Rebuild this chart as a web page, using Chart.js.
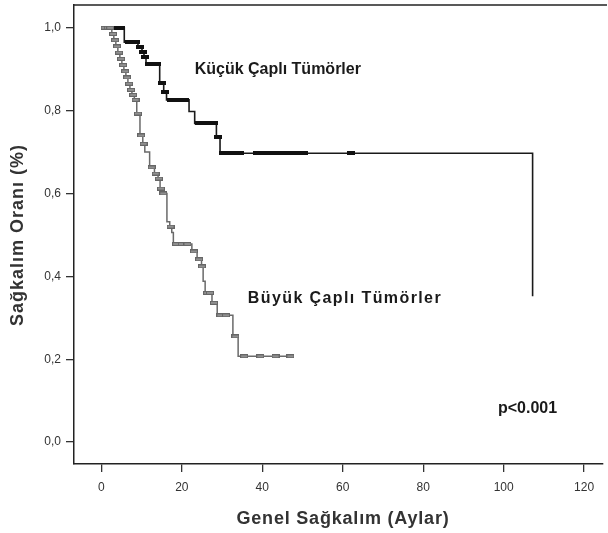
<!DOCTYPE html>
<html>
<head>
<meta charset="utf-8">
<script src="https://cdn.jsdelivr.net/npm/chart.js@4"></script>
<style>
  html, body { margin: 0; padding: 0; background: #fff; }
  #wrap { width: 608px; height: 533px; }
</style>
</head>
<body>
<div id="wrap"><canvas id="kmChart" width="608" height="533"></canvas></div>
<script>
// Axis ticks
const xTicks = [0, 20, 40, 60, 80, 100, 120];
const yTicks = [0, 0.2, 0.4, 0.6, 0.8, 1.0];

// Küçük çaplı tümörler (small tumours) - step times (months) and survival after each drop
const smallTimes = [0, 5.7, 9.1, 10.1, 10.6, 11.1, 14.5, 15.5, 16.2, 21.8, 23.2, 28.6, 29.5, 107.2];
const smallSurv  = [1.0, 0.965, 0.954, 0.942, 0.930, 0.912, 0.866, 0.844, 0.826, 0.798, 0.769, 0.736, 0.697, 0.352];
// censored cases
const smallCensorTimes = [3.5, 4.8, 6.8, 7.8, 8.6, 9.6, 10.4, 10.9, 11.8, 12.8, 13.8, 15.0, 15.8,
  17.2, 18.4, 19.6, 20.8, 24.3, 25.6, 26.9, 27.9, 29.0,
  30.2, 31.6, 33.0, 34.4, 38.7, 40.2, 41.7, 43.2, 44.7, 46.2, 47.7, 49.2, 50.4, 62.0];
const smallCensorSurv  = [1.0, 1.0, 0.965, 0.965, 0.965, 0.954, 0.942, 0.930, 0.912, 0.912, 0.912, 0.866, 0.844,
  0.826, 0.826, 0.826, 0.826, 0.769, 0.769, 0.769, 0.769, 0.736,
  0.697, 0.697, 0.697, 0.697, 0.697, 0.697, 0.697, 0.697, 0.697, 0.697, 0.697, 0.697, 0.697, 0.697];

// Büyük çaplı tümörler (large tumours)
const largeTimes = [0, 2.6, 3.1, 3.6, 4.1, 4.6, 5.1, 5.6, 6.1, 6.6, 7.1, 7.6, 8.2, 8.8, 9.6, 10.3, 10.8,
  12.0, 13.2, 14.1, 14.6, 15.1, 16.3, 17.0, 17.5, 17.9, 22.5, 23.8, 24.9, 25.3, 25.8, 27.5, 28.8, 32.7, 34.0, 47.4];
const largeSurv  = [1.0, 0.985, 0.970, 0.955, 0.940, 0.925, 0.910, 0.895, 0.880, 0.865, 0.850, 0.838, 0.826, 0.793, 0.740, 0.720, 0.700,
  0.663, 0.648, 0.636, 0.612, 0.600, 0.532, 0.520, 0.506, 0.478, 0.460, 0.441, 0.424, 0.388, 0.360, 0.336, 0.306, 0.255, 0.207, 0.207];
const largeCensorTimes = [0.8, 1.6, 2.2, 2.9, 3.4, 3.9, 4.4, 4.9, 5.4, 5.9, 6.4, 6.9, 7.4, 7.9, 8.5,
  9.1, 9.9, 10.5, 12.5, 13.5, 14.3, 14.8, 15.4, 17.2, 18.6, 20.0, 21.4, 23.0, 24.3, 25.0,
  26.3, 27.0, 28.0, 29.6, 31.0, 33.3, 35.5, 39.5, 43.3, 47.0];
const largeCensorSurv  = [1.0, 1.0, 1.0, 0.985, 0.970, 0.955, 0.940, 0.925, 0.910, 0.895, 0.880, 0.865, 0.850, 0.838, 0.826,
  0.793, 0.740, 0.720, 0.663, 0.648, 0.636, 0.612, 0.600, 0.520, 0.478, 0.478, 0.478, 0.460, 0.441, 0.424,
  0.360, 0.360, 0.336, 0.306, 0.306, 0.255, 0.207, 0.207, 0.207, 0.207];

function toPoints(xs, ys) {
    return xs.map((x, i) => ({ x: x, y: ys[i] }));
}

// small rectangle images used as censor marks
function makeMark(w, h, fill, stroke) {
    const c = document.createElement('canvas');
    c.width = w;
    c.height = h;
    const g = c.getContext('2d');
    g.fillStyle = fill;
    g.fillRect(0, 0, w, h);
    if (stroke) {
        g.strokeStyle = stroke;
        g.lineWidth = 1;
        g.strokeRect(0.5, 0.5, w - 1, h - 1);
    }
    return c;
}
const blackMark = makeMark(8, 4, '#111111');
const grayMark = makeMark(8, 4, '#909090', '#666666');

const FONT = "'Liberation Sans', Arial, sans-serif";

// no automatic padding for tick labels, so the plot box lands where the reference has it
function noPad(s) {
    s.paddingTop = 0;
    s.paddingBottom = 0;
    s.paddingLeft = 0;
    s.paddingRight = 0;
}

// top frame line, axis titles and text labels inside the plot
const extrasPlugin = {
    id: 'extras',
    afterDraw(chart) {
        const { ctx, chartArea, scales } = chart;
        ctx.save();
        ctx.strokeStyle = '#222';
        ctx.lineWidth = 1.5;
        ctx.beginPath();
        ctx.moveTo(chartArea.left, chartArea.top);
        ctx.lineTo(chartArea.right + 4, chartArea.top);
        ctx.stroke();

        ctx.fillStyle = '#1a1a1a';
        ctx.textBaseline = 'middle';
        ctx.textAlign = 'left';
        ctx.font = 'bold 16px ' + FONT;
        ctx.fillText('Küçük Çaplı Tümörler', scales.x.getPixelForValue(23.2), scales.y.getPixelForValue(0.899));
        ctx.letterSpacing = '1.4px';
        ctx.fillText('Büyük Çaplı Tümörler', scales.x.getPixelForValue(36.4), scales.y.getPixelForValue(0.347));
        ctx.letterSpacing = '0px';
        ctx.font = 'bold 16px ' + FONT;
        ctx.fillText('p<0.001', scales.x.getPixelForValue(98.6), scales.y.getPixelForValue(0.08));

        // axis titles
        ctx.fillStyle = '#333';
        ctx.textAlign = 'center';
        ctx.font = 'bold 18px ' + FONT;
        ctx.letterSpacing = '0.8px';
        ctx.fillText('Genel Sağkalım (Aylar)', 343, 519);
        ctx.translate(18, 235);
        ctx.rotate(-Math.PI / 2);
        ctx.letterSpacing = '1px';
        ctx.fillText('Sağkalım Oranı (%)', 0, 0);
        ctx.restore();
    }
};

const ctx = document.getElementById('kmChart').getContext('2d');
new Chart(ctx, {
    type: 'scatter',
    data: {
        datasets: [
            {
                label: 'Büyük Çaplı Tümörler',
                data: toPoints(largeTimes, largeSurv),
                showLine: true,
                stepped: 'before',
                borderColor: '#6a6a6a',
                borderWidth: 1.5,
                pointRadius: 0,
                order: 1
            },
            {
                label: 'Büyük censor',
                data: toPoints(largeCensorTimes, largeCensorSurv),
                showLine: false,
                pointStyle: grayMark,
                pointRadius: 4,
                order: 0
            },
            {
                label: 'Küçük Çaplı Tümörler',
                data: toPoints(smallTimes, smallSurv),
                showLine: true,
                stepped: 'before',
                borderColor: '#1a1a1a',
                borderWidth: 1.6,
                pointRadius: 0,
                order: 3
            },
            {
                label: 'Küçük censor',
                data: toPoints(smallCensorTimes, smallCensorSurv),
                showLine: false,
                pointStyle: blackMark,
                pointRadius: 4,
                order: 2
            }
        ]
    },
    options: {
        responsive: false,
        animation: false,
        layout: { padding: { left: 0, top: 3, right: 1, bottom: 0 } },
        plugins: {
            legend: { display: false },
            tooltip: { enabled: false }
        },
        scales: {
            x: {
                type: 'linear',
                min: -6.8,
                max: 124.7,
                afterBuildTicks: (s) => { s.ticks = xTicks.map(v => ({ value: v })); },
                afterFit: (s) => { s.height = 69; noPad(s); },
                ticks: {
                    font: { family: FONT, size: 12 },
                    color: '#333',
                    padding: 8,
                    maxRotation: 0,
                    autoSkip: false
                },
                grid: {
                    display: true,
                    drawOnChartArea: false,
                    drawTicks: true,
                    tickLength: 8,
                    color: '#333',
                    lineWidth: 1.3
                },
                border: { display: true, color: '#222', width: 1.5 }
            },
            y: {
                type: 'linear',
                min: -0.053,
                max: 1.055,
                afterBuildTicks: (s) => { s.ticks = yTicks.map(v => ({ value: v })); },
                afterFit: (s) => { s.width = 74; noPad(s); },
                ticks: {
                    font: { family: FONT, size: 12 },
                    color: '#333',
                    padding: 5,
                    callback: (v) => v.toFixed(1).replace('.', ',')
                },
                grid: {
                    display: true,
                    drawOnChartArea: false,
                    drawTicks: true,
                    tickLength: 8,
                    color: '#333',
                    lineWidth: 1.3
                },
                border: { display: true, color: '#222', width: 1.5 }
            }
        }
    },
    plugins: [extrasPlugin]
});
</script>
</body>
</html>
